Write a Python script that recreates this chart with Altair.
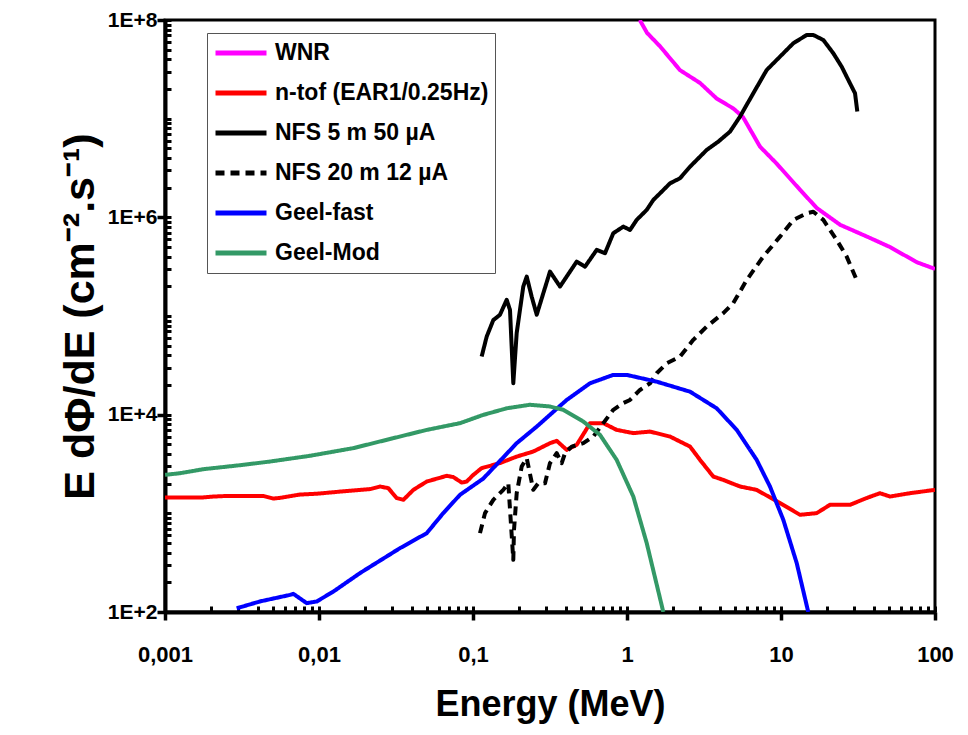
import altair as alt
import pandas as pd

FONT = "Liberation Sans"

SERIES = ["WNR", "n-tof (EAR1/0.25Hz)", "NFS 5 m 50 µA", "NFS 20 m 12 µA", "Geel-fast", "Geel-Mod"]
COLORS = ["#FF00FF", "#FF0000", "#000000", "#000000", "#0000FF", "#339966"]
DASHES = [[1, 0], [1, 0], [1, 0], [9, 6], [1, 0], [1, 0]]

WNR_E = [1.21, 1.35, 1.64, 2.21, 2.98, 3.82, 4.90, 5.66, 7.31, 9.38, 13.3, 17.1, 24.2, 36.0, 51.0, 76.4, 100]
WNR_F = [1.0e8, 7.4e7, 5.4e7, 3.1e7, 2.3e7, 1.6e7, 1.27e7, 1.04e7, 5.2e6, 3.5e6, 1.9e6, 1.24e6, 8.4e5, 6.4e5, 5.0e5, 3.5e5, 3.0e5]

NTOF_E = [0.001, 0.00177, 0.00206, 0.00252, 0.00435, 0.00505, 0.00558, 0.00752, 0.00967, 0.01369, 0.02145,
          0.0249, 0.0282, 0.0319, 0.0353, 0.0410, 0.0501, 0.0675, 0.0745, 0.0845, 0.0910, 0.1005, 0.1138,
          0.1497, 0.1922, 0.2463, 0.3162, 0.3496, 0.406, 0.4715, 0.5337, 0.575, 0.7019, 0.857, 1.099, 1.411,
          1.902, 2.566, 2.98, 3.634, 4.22, 5.418, 6.95, 9.85, 13.29, 17.06, 20.8, 28.05, 36.0, 43.9, 51.0,
          68.8, 100]
NTOF_F = [1450, 1450, 1480, 1500, 1500, 1410, 1435, 1550, 1580, 1660, 1760,
          1870, 1800, 1430, 1370, 1730, 2100, 2400, 2330, 2050, 2100, 2455, 2870,
          3230, 3760, 4230, 5140, 5430, 4400, 4950, 6740, 8200, 8200, 7010, 6500, 6740,
          6000, 4750, 3480, 2360, 2180, 1870, 1730, 1270, 966, 1005, 1220, 1220, 1430, 1600, 1480,
          1600, 1730]

NFS5_E = [0.1138, 0.1227, 0.1355, 0.1497, 0.1655, 0.1739, 0.1827, 0.1922, 0.2121, 0.2233, 0.2405, 0.2593,
          0.2861, 0.3162, 0.3673, 0.4266, 0.4715, 0.5337, 0.6356, 0.7197, 0.8146, 0.9462, 1.046, 1.156,
          1.343, 1.482, 1.638, 1.902, 2.209, 2.566, 3.293, 3.916, 4.666, 5.418, 6.61, 8.07, 9.85, 12.02,
          14.69, 16.21, 18.83, 21.86, 24.78, 27.35, 30.24, 31.3]
NFS5_F = [3.88e4, 6.18e4, 9.1e4, 1.03e5, 1.46e5, 1.15e5, 2.08e4, 6.74e4, 1.99e5, 2.51e5, 1.57e5, 1.03e5,
          1.70e5, 2.82e5, 1.99e5, 2.82e5, 3.56e5, 3.16e5, 4.68e5, 4.33e5, 6.90e5, 8.05e5, 7.45e5, 9.42e5,
          1.19e6, 1.50e6, 1.75e6, 2.21e6, 2.49e6, 3.26e6, 4.82e6, 5.85e6, 7.39e6, 1.05e7, 1.81e7, 3.11e7,
          4.25e7, 5.81e7, 7.05e7, 7.05e7, 6.27e7, 4.60e7, 3.36e7, 2.47e7, 1.81e7, 1.18e7]

NFS20_E = [0.111, 0.1197, 0.1355, 0.1573, 0.1695, 0.1827, 0.1846, 0.1922, 0.2071, 0.2233, 0.2463, 0.2655,
           0.2935, 0.3162, 0.3496, 0.3767, 0.3957, 0.4375, 0.5202, 0.6043, 0.7019, 0.8146, 0.9462, 1.046,
           1.214, 1.411, 1.559, 1.811, 2.209, 2.695, 3.293, 4.22, 4.90, 5.99, 7.67, 9.85, 12.02, 14.69,
           16.21, 18.83, 23.0, 26.7, 31.0]
NFS20_F = [630, 1005, 1370, 1730, 2020, 338, 680, 1600, 2980, 3620, 1730, 2020,
           2020, 3230, 4070, 3230, 4070, 4750, 5140, 6000, 8200, 1.12e4, 1.31e4, 1.41e4,
           1.78e4, 2.08e4, 2.63e4, 3.32e4, 3.88e4, 5.73e4, 7.81e4, 1.07e5, 1.35e5, 2.32e5, 4.00e5, 6.37e5,
           9.42e5, 1.10e6, 1.14e6, 9.42e5, 5.90e5, 4.00e5, 2.32e5]

GFAST_E = [0.00292, 0.00414, 0.00648, 0.00681, 0.00832, 0.00967, 0.01239, 0.01846, 0.0336, 0.0501, 0.0641,
           0.0823, 0.1166, 0.1922, 0.2593, 0.406, 0.575, 0.8146, 0.996, 1.559, 2.566, 3.824, 5.16, 6.95,
           8.48, 10.35, 12.65, 15.03]
GFAST_F = [109, 128, 149, 153, 123, 128, 161, 248, 444, 630, 1005,
           1540, 2250, 5140, 7570, 1.41e4, 2.08e4, 2.53e4, 2.53e4, 2.16e4, 1.71e4, 1.16e4, 7010, 3480,
           1870, 860, 313, 100]

GMOD_E = [0.001, 0.00125, 0.00177, 0.00322, 0.00481, 0.00874, 0.0167, 0.0204, 0.0304, 0.0501, 0.0823,
          0.1166, 0.1655, 0.2345, 0.3162, 0.386, 0.5202, 0.668, 0.857, 1.099, 1.343, 1.721]
GMOD_F = [2455, 2550, 2800, 3100, 3350, 3830, 4580, 4950, 5780, 7010, 8200,
          9950, 1.16e4, 1.26e4, 1.21e4, 1.12e4, 8510, 6240, 3480, 1480, 499, 100]

X_MAJOR = [0.001, 0.01, 0.1, 1, 10, 100]
Y_MAJOR = [1e2, 1e4, 1e6, 1e8]
X_MINOR = [k * 10.0 ** n for n in range(-3, 2) for k in range(1, 10)] + [100]
Y_MINOR = [k * 10.0 ** n for n in range(2, 8) for k in range(1, 10)] + [1e8]

rows = []
for name, es, fs in zip(SERIES,
                        [WNR_E, NTOF_E, NFS5_E, NFS20_E, GFAST_E, GMOD_E],
                        [WNR_F, NTOF_F, NFS5_F, NFS20_F, GFAST_F, GMOD_F]):
    for i, (e, f) in enumerate(zip(es, fs)):
        rows.append({"series": name, "E": e, "F": f, "idx": i})
df = pd.DataFrame(rows)

W, H = 770, 592
x_scale = alt.Scale(type="log", domain=[0.001, 100], nice=False)
y_scale = alt.Scale(type="log", domain=[100, 1e8], nice=False)

legend = alt.Legend(
    title=None, orient="none", legendX=42, legendY=13,
    symbolType="stroke", symbolSize=2601, symbolStrokeWidth=5,
    labelFont=FONT, labelFontSize=23, labelFontWeight="bold", labelColor="black",
    labelLimit=400, labelOffset=6, padding=6, rowPadding=12, clipHeight=28,
    strokeColor="#555555", fillColor="white", symbolOffset=0,
)

lines = alt.Chart(df).mark_line(clip=True, strokeWidth=4, strokeJoin="round").encode(
    x=alt.X("E:Q", scale=x_scale, axis=alt.Axis(
        orient="bottom", values=X_MAJOR,
        labelExpr="replace(toString(datum.value), '.', ',')",
        tickSize=8, tickWidth=3.5, tickColor="black", domainWidth=4, domainColor="black",
        labelFont=FONT, labelFontSize=22, labelFontWeight="bold", labelColor="black",
        labelPadding=24, labelFlush=False, labelOverlap=False, grid=False,
        title="Energy (MeV)", titleFont=FONT, titleFontSize=36, titleFontWeight="bold",
        titleColor="black", titlePadding=22)),
    y=alt.Y("F:Q", scale=y_scale, axis=alt.Axis(
        orient="left", values=Y_MAJOR,
        labelExpr="'1E+' + round(log(datum.value) / LN10)",
        tickSize=8, tickWidth=3.5, tickColor="black", domainWidth=4, domainColor="black",
        labelFont=FONT, labelFontSize=21, labelFontWeight="bold", labelColor="black",
        labelPadding=0, labelFlush=False, labelOverlap=False, grid=False,
        title="E dΦ/dE (cm⁻².s⁻¹)", titleFont=FONT, titleFontSize=43, titleFontWeight="bold",
        titleColor="black", titlePadding=5)),
    color=alt.Color("series:N", scale=alt.Scale(domain=SERIES, range=COLORS), legend=legend),
    strokeDash=alt.StrokeDash("series:N", scale=alt.Scale(domain=SERIES, range=DASHES), legend=legend),
    order=alt.Order("idx:Q"),
)

minor = alt.Chart(df).mark_point(opacity=0).encode(
    x=alt.X("E:Q", scale=x_scale, axis=alt.Axis(
        orient="top", offset=-H, values=X_MINOR, labels=False, domain=False,
        tickSize=6, tickWidth=3, tickColor="black", grid=False, title=None)),
    y=alt.Y("F:Q", scale=y_scale, axis=alt.Axis(
        orient="right", offset=-W, values=Y_MINOR, labels=False, domain=False,
        tickSize=6, tickWidth=3, tickColor="black", grid=False, title=None)),
)

chart = alt.layer(lines, minor).resolve_axis(x="independent", y="independent").properties(
    width=W, height=H,
    autosize=alt.AutoSizeParams(type="none"),
    padding={"left": 157, "top": 12, "right": 25, "bottom": 115},
    background="white",
).configure_view(stroke="black", strokeWidth=3)

chart.save("out.html", embed_options={"renderer": "svg", "actions": False})
